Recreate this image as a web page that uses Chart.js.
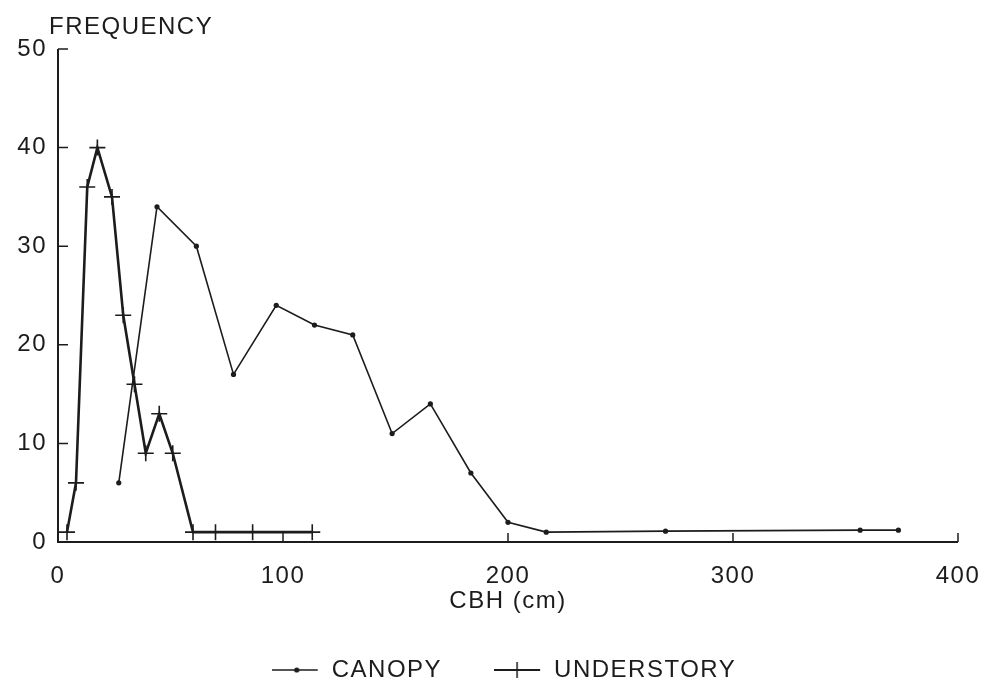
<!DOCTYPE html>
<html>
<head>
<meta charset="utf-8">
<script src="https://cdn.jsdelivr.net/npm/chart.js@4/dist/chart.umd.min.js"></script>
<style>
  html, body { margin: 0; padding: 0; background: #fff; }
</style>
</head>
<body>
<canvas id="cbhGraph" width="988" height="684"></canvas>
<script>
// stem girth classes (cm) and tree counts for each layer
const canopyCbh = [27, 44, 61.5, 78, 97, 114, 131, 148.5, 165.5, 183.5, 200, 217, 270, 356.5, 373.5];
const canopyFreq = [6, 34, 30, 17, 24, 22, 21, 11, 14, 7, 2, 1, 1.1, 1.2, 1.2];
const understoryCbh = [4, 8, 13, 17.5, 24, 29, 34, 39, 45, 51, 60, 70, 86.5, 113];
const understoryFreq = [1, 6, 36, 40, 35, 23, 16, 9, 13, 9, 1, 1, 1, 1];
const xTicks = [0, 100, 200, 300, 400];
const yTicks = [0, 10, 20, 30, 40, 50];

const ink = "#1c1c1c";
const face = '"Liberation Sans", Arial, sans-serif';
const spacing = "1.5px";

const toPoints = (xs, ys) => xs.map((v, i) => ({ x: v, y: ys[i] }));

// legend sample: short line with the series marker on it
const sample = (cross) => {
  const c = document.createElement("canvas");
  c.width = 48;
  c.height = 20;
  const g = c.getContext("2d");
  g.strokeStyle = ink;
  g.fillStyle = ink;
  g.lineWidth = cross ? 2.2 : 1.5;
  g.beginPath();
  g.moveTo(0, 10);
  g.lineTo(46, 10);
  g.stroke();
  if (cross) {
    g.lineWidth = 1.5;
    g.beginPath();
    g.moveTo(23, 2);
    g.lineTo(23, 18);
    g.stroke();
  } else {
    g.beginPath();
    g.arc(25, 10, 2.6, 0, Math.PI * 2);
    g.fill();
  }
  return c;
};
const samples = [sample(false), sample(true)];

const frame = {
  id: "frame",
  beforeLayout: (chart) => { chart.ctx.letterSpacing = spacing; },
  beforeDraw: (chart) => { chart.ctx.letterSpacing = spacing; },
  afterDraw: (chart) => {
    const { ctx, chartArea: a, scales: { x, y } } = chart;
    ctx.save();
    ctx.letterSpacing = spacing;
    ctx.strokeStyle = ink;
    ctx.fillStyle = ink;

    // axes, with tick marks pointing into the plot
    ctx.lineWidth = 2;
    ctx.beginPath();
    ctx.moveTo(a.left, a.top);
    ctx.lineTo(a.left, a.bottom);
    ctx.lineTo(a.right, a.bottom);
    ctx.stroke();
    ctx.lineWidth = 1.5;
    ctx.beginPath();
    xTicks.slice(1).forEach((v) => {
      const px = x.getPixelForValue(v);
      ctx.moveTo(px, a.bottom);
      ctx.lineTo(px, a.bottom - 9);
    });
    yTicks.slice(1).forEach((v) => {
      const py = y.getPixelForValue(v);
      ctx.moveTo(a.left, py);
      ctx.lineTo(a.left + 10, py);
    });
    ctx.stroke();

    ctx.font = "24px " + face;
    ctx.textBaseline = "middle";
    ctx.textAlign = "left";
    ctx.fillText("FREQUENCY", a.left - 9, a.top - 22);

    // legend along the bottom
    const items = chart.data.datasets.map((ds, i) => ({
      text: ds.label,
      img: samples[i],
      w: 48 + 12 + ctx.measureText(ds.label).width,
    }));
    const gap = 52;
    const total = items.reduce((s, it) => s + it.w, 0) + gap * (items.length - 1);
    let lx = 504 - total / 2;
    const ly = 670;
    items.forEach((it) => {
      ctx.drawImage(it.img, lx, ly - 10);
      ctx.fillText(it.text, lx + 60, ly);
      lx += it.w + gap;
    });
    ctx.restore();
  },
};

const tickFont = { family: face, size: 24 };

new Chart(document.getElementById("cbhGraph"), {
  type: "line",
  data: {
    datasets: [
      {
        label: "CANOPY",
        data: toPoints(canopyCbh, canopyFreq),
        borderColor: ink,
        backgroundColor: ink,
        borderWidth: 1.6,
        pointStyle: "circle",
        pointRadius: 2.6,
        pointBorderWidth: 0,
        tension: 0,
      },
      {
        label: "UNDERSTORY",
        data: toPoints(understoryCbh, understoryFreq),
        borderColor: ink,
        backgroundColor: ink,
        borderWidth: 2.6,
        pointStyle: "cross",
        pointRadius: 8,
        pointBorderWidth: 1.6,
        tension: 0,
      },
    ],
  },
  options: {
    responsive: false,
    animation: false,
    layout: { padding: { top: 49, right: 0, left: 0, bottom: 64 } },
    scales: {
      x: {
        type: "linear",
        min: 0,
        max: 400,
        afterFit: (s) => {
          s.height = 78;
          s.paddingLeft = 0;
          s.paddingRight = 30;
        },
        grid: { display: false, drawTicks: false },
        border: { display: false },
        ticks: { stepSize: 100, padding: 20, color: ink, font: tickFont, maxRotation: 0 },
        title: {
          display: true,
          text: "CBH (cm)",
          color: ink,
          font: tickFont,
          padding: { top: 0, bottom: 4 },
        },
      },
      y: {
        min: 0,
        max: 50,
        afterFit: (s) => { s.width = 58; },
        grid: { display: false, drawTicks: false },
        border: { display: false },
        ticks: { stepSize: 10, padding: 11, color: ink, font: tickFont },
      },
    },
    plugins: {
      legend: { display: false },
      tooltip: { enabled: false },
    },
  },
  plugins: [frame],
});
</script>
</body>
</html>
